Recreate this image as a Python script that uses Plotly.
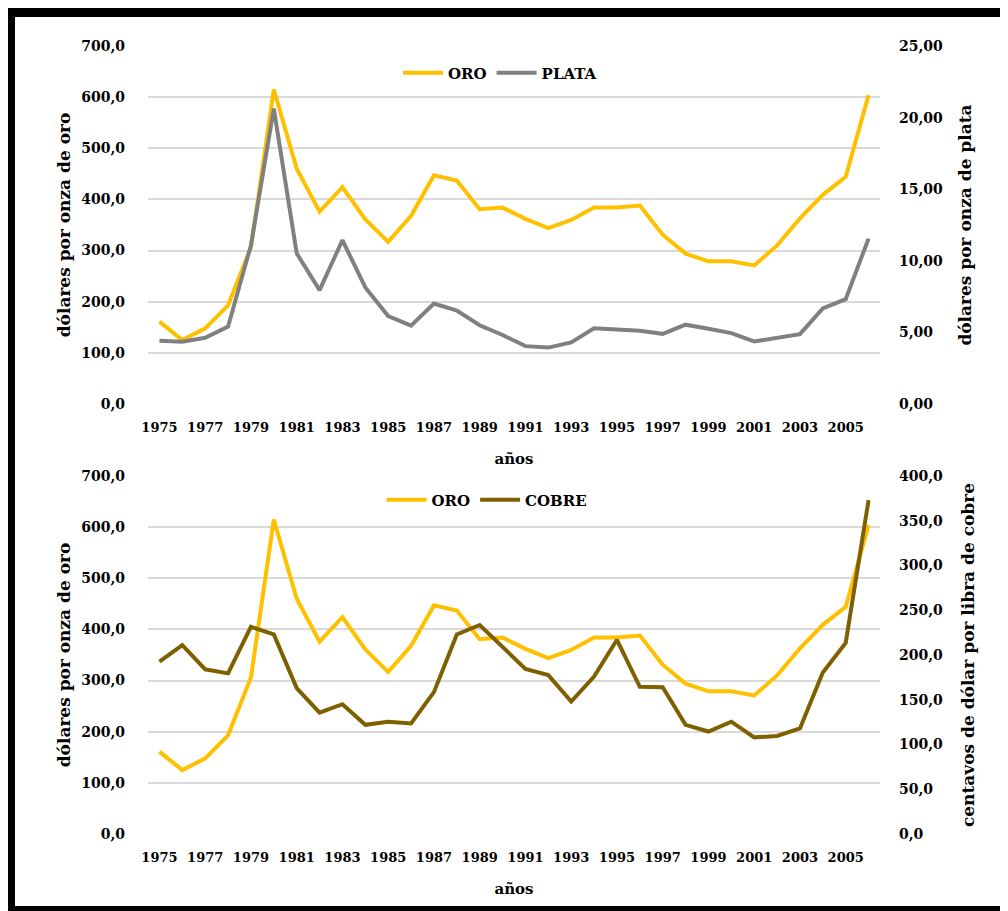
import plotly.graph_objects as go

# ---------------- data ----------------
years = list(range(1975, 2007))
oro = [161, 125, 148, 193, 306, 615, 460, 376, 424, 361, 317, 368, 447, 437, 381, 384,
       362, 344, 360, 384, 384, 388, 331, 294, 279, 279, 271, 310, 363, 409, 444, 604]
plata = [4.42, 4.35, 4.62, 5.40, 11.09, 20.63, 10.52, 7.95, 11.44, 8.14, 6.14, 5.47,
         7.01, 6.53, 5.50, 4.82, 4.04, 3.94, 4.30, 5.29, 5.20, 5.12, 4.90, 5.54, 5.25,
         4.95, 4.37, 4.60, 4.88, 6.67, 7.32, 11.55]
cobre = [192.5, 211, 184, 179.5, 231.5, 223, 163, 135.5, 145, 122, 125.5, 123.5, 158.5,
         223, 233.5, 209, 184.5, 177.5, 148, 176, 217, 164.5, 164, 122, 114.5, 125.5,
         108, 109.5, 118, 180.5, 213.5, 373]
xticks = list(range(1975, 2006, 2))
xticktext = [str(y) for y in xticks]

C_ORO = "#FFC000"
C_PLATA = "#808080"
C_COBRE = "#7F6000"
FONT = "DejaVu Serif"

# page coordinates (browser viewport); the figure starts at (8, 8) because of body margin
OFF = 8
VW, VH = 1008, 911
W, H = VW - OFF, VH - OFF
L, R, T, B = 148, 880, 46, 834  # plot area in viewport px


def px(x):
    return (x - L) / (R - L)


def py(y):
    return (B - y) / (B - T)


fig = go.Figure()

# top chart
fig.add_trace(go.Scatter(x=years, y=oro, name="ORO", mode="lines",
                         line=dict(color=C_ORO, width=4), xaxis="x", yaxis="y",
                         legend="legend"))
fig.add_trace(go.Scatter(x=years, y=plata, name="PLATA", mode="lines",
                         line=dict(color=C_PLATA, width=4), xaxis="x", yaxis="y2",
                         legend="legend"))
# bottom chart
fig.add_trace(go.Scatter(x=years, y=oro, name="ORO", mode="lines",
                         line=dict(color=C_ORO, width=4), xaxis="x2", yaxis="y3",
                         legend="legend2"))
fig.add_trace(go.Scatter(x=years, y=cobre, name="COBRE", mode="lines",
                         line=dict(color=C_COBRE, width=4), xaxis="x2", yaxis="y4",
                         legend="legend2"))

ytickfont = dict(family=FONT, size=14, color="black", weight="bold")
xtickfont = dict(family=FONT, size=13, color="black", weight="bold")
titlefont = dict(family=FONT, size=17, color="black", weight="bold")
xtitlefont = dict(family=FONT, size=15, color="black", weight="bold")
legfont = dict(family=FONT, size=15, color="black", weight="bold")

xcommon = dict(range=[1974.5, 2006.5], tickmode="array", tickvals=xticks,
               ticktext=xticktext, showgrid=False, zeroline=False, showline=False,
               ticks="", tickfont=xtickfont, ticklabelstandoff=14)
gridc = "#D9D9D9"

top_dom = [py(404), 1.0]
bot_dom = [0.0, py(476)]

fig.update_layout(
    width=W, height=H,
    margin=dict(l=L - OFF, r=W - (R - OFF), t=T - OFF, b=H - (B - OFF), pad=0),
    paper_bgcolor="white", plot_bgcolor="white",
    separators=",.",
    showlegend=True,
    xaxis=dict(**xcommon, domain=[0, 1], anchor="y",
               title=dict(text="años", font=xtitlefont, standoff=19)),
    yaxis=dict(domain=top_dom, range=[0, 700], dtick=100, tickformat=".1f",
               showgrid=True, gridcolor=gridc, gridwidth=1.5, zeroline=False,
               ticks="", tickfont=ytickfont, ticklabelstandoff=22,
               title=dict(text="dólares por onza de oro", font=titlefont, standoff=6)),
    yaxis2=dict(overlaying="y", side="right", anchor="x", range=[0, 25], dtick=5,
                tickformat=".2f", showgrid=False, zeroline=False, ticks="",
                tickfont=ytickfont, ticklabelstandoff=18,
                title=dict(text="dólares por onza de plata", font=titlefont, standoff=17)),
    xaxis2=dict(**xcommon, domain=[0, 1], anchor="y3",
                title=dict(text="años", font=xtitlefont, standoff=19)),
    yaxis3=dict(domain=bot_dom, anchor="x2", range=[0, 700], dtick=100, tickformat=".1f",
                showgrid=True, gridcolor=gridc, gridwidth=1.5, zeroline=False,
                ticks="", tickfont=ytickfont, ticklabelstandoff=22,
                title=dict(text="dólares por onza de oro", font=titlefont, standoff=6)),
    yaxis4=dict(overlaying="y3", side="right", anchor="x2", range=[0, 400], dtick=50,
                tickformat=".1f", showgrid=False, zeroline=False, ticks="",
                tickfont=ytickfont, ticklabelstandoff=18,
                title=dict(text="centavos de dólar por libra de cobre", font=titlefont,
                           standoff=20)),
    legend=dict(orientation="h", x=px(500), y=py(73), xanchor="center", yanchor="middle",
                font=legfont, bgcolor="rgba(0,0,0,0)", itemwidth=40),
    legend2=dict(orientation="h", x=px(487), y=py(500), xanchor="center", yanchor="middle",
                 font=legfont, bgcolor="rgba(0,0,0,0)", itemwidth=40),
)

# black frame around the picture (left, top, bottom; right edge is cropped)
frame = [
    (0, 8, 1030, 17),     # top band
    (0, 8, 15, 930),      # left band
    (0, 906, 1030, 930),  # bottom band
]
for x0, y0, x1, y1 in frame:
    fig.add_shape(type="rect", xref="paper", yref="paper",
                  x0=px(x0), x1=px(x1), y0=py(y1), y1=py(y0),
                  fillcolor="black", line=dict(width=0), layer="above")

fig.write_html("out.html")
